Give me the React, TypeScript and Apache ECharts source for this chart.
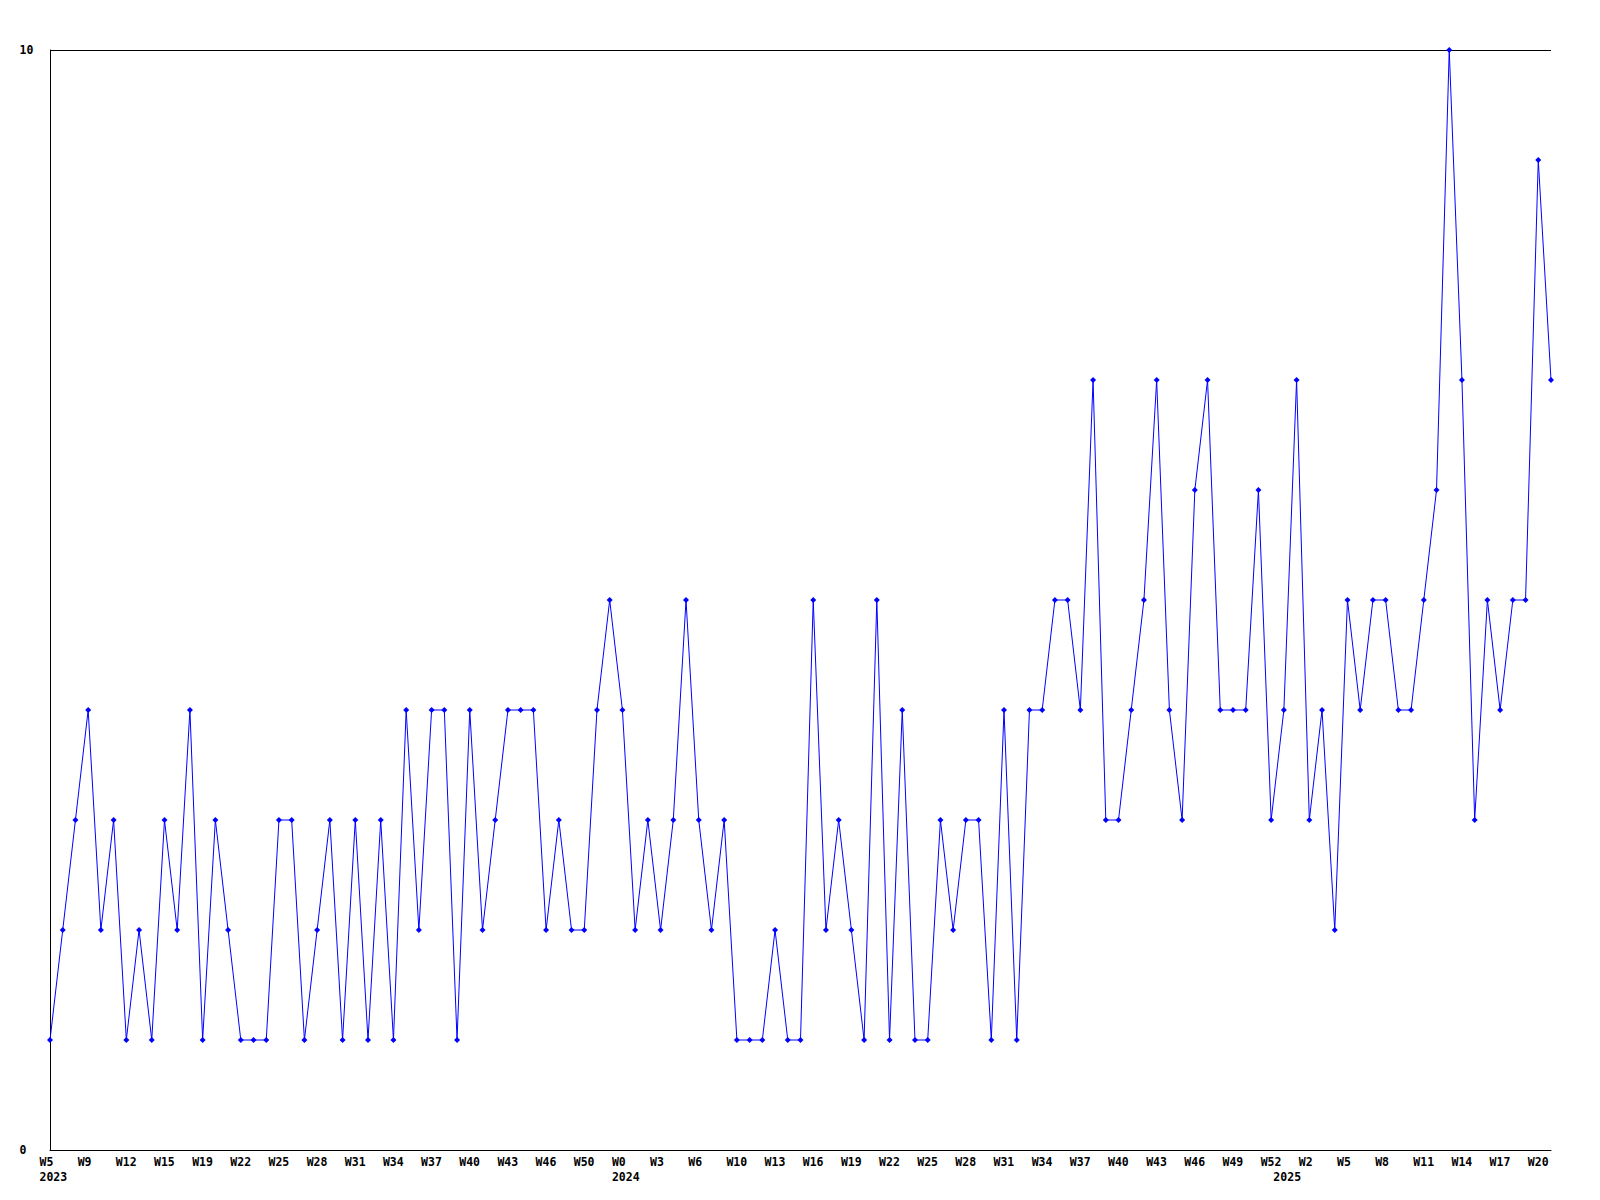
import React, { useEffect, useRef } from "react";
import * as echarts from "echarts";

const weekLabels = [
  "W5", "W9", "W12", "W15", "W19", "W22", "W25", "W28", "W31", "W34",
  "W37", "W40", "W43", "W46", "W50", "W0", "W3", "W6", "W10", "W13",
  "W16", "W19", "W22", "W25", "W28", "W31", "W34", "W37", "W40", "W43",
  "W46", "W49", "W52", "W2", "W5", "W8", "W11", "W14", "W17", "W20",
];
const labelEvery = 3;
const yearLabels = ["2023", "2024", "2025"];
const yearIndex = [0, 45, 97];

const values = [
  1, 2, 3, 4, 2, 3, 1, 2, 1, 3, 2, 4, 1, 3, 2, 1,
  1, 1,
  3, 3, 1, 2, 3, 1, 3, 1, 3, 1,
  4, 2, 4, 4, 1, 4, 2, 3, 4, 4, 4, 2, 3, 2, 2, 4, 5,
  4, 2, 3, 2, 3, 5, 3, 2, 3, 1, 1, 1, 2, 1, 1,
  5, 2, 3, 2, 1, 5, 1, 4, 1, 1, 3, 2, 3, 3, 1,
  4, 1, 4, 4, 5, 5, 4, 7, 3, 3, 4, 5, 7, 4, 3,
  6, 7, 4, 4, 4, 6, 3, 4, 7, 3, 4, 2, 5, 4, 5, 5, 4, 4, 5, 6, 10, 7, 3, 5, 4, 5, 5, 9, 7,
];

const FONT = "'DejaVu Sans Mono', 'Liberation Mono', monospace";

export default function App() {
  const ref = useRef<HTMLDivElement>(null);
  useEffect(() => {
    if (!ref.current) return;
    const chart = echarts.init(ref.current, null, { renderer: "svg" });
    const cats = values.map((_, i) => (i % labelEvery === 0 ? weekLabels[i / labelEvery] || "" : ""));
    const yearCats = values.map((_, i) => {
      const k = yearIndex.indexOf(i);
      return k >= 0 ? yearLabels[k] : "";
    });
    const rich = {
      a: { width: 21, align: "left", fontFamily: FONT, fontSize: 11.5, fontWeight: "bold", color: "#000" },
    };
    chart.setOption({
      animation: false,
      backgroundColor: "#fff",
      grid: { left: 50, top: 50, right: 49, bottom: 50, containLabel: false },
      xAxis: [
        {
          type: "category",
          data: cats,
          boundaryGap: false,
          axisLine: { show: true, lineStyle: { color: "#000", width: 1 } },
          axisTick: { show: false },
          splitLine: { show: false },
          axisLabel: {
            interval: 0,
            margin: 6,
            align: "center",
            formatter: (v: string) => (v ? `{a|${v}}` : ""),
            rich,
          },
        },
        {
          type: "category",
          data: yearCats,
          position: "bottom",
          boundaryGap: false,
          axisLine: { show: false },
          axisTick: { show: false },
          splitLine: { show: false },
          axisLabel: {
            interval: 0,
            margin: 21,
            align: "center",
            formatter: (v: string) => (v ? `{a|${v}}` : ""),
            rich,
          },
        },
      ],
      yAxis: {
        type: "value",
        min: 0,
        max: 10,
        interval: 10,
        axisLine: { show: true, lineStyle: { color: "#000", width: 1 } },
        axisTick: { show: false },
        splitLine: { show: true, lineStyle: { color: "#000", width: 1 } },
        axisLabel: {
          margin: 30.5,
          align: "left",
          fontFamily: FONT,
          fontSize: 11.5,
          fontWeight: "bold",
          color: "#000",
        },
      },
      series: [
        {
          type: "line",
          data: values,
          xAxisIndex: 0,
          symbol: "diamond",
          symbolSize: 6,
          showAllSymbol: true,
          lineStyle: { color: "#0000ff", width: 1 },
          itemStyle: { color: "#0000ff" },
        },
      ],
    });
    return () => chart.dispose();
  }, []);
  return (
    <div
      ref={ref}
      style={{ position: "absolute", left: 0, top: 0, width: 1600, height: 1200 }}
    />
  );
}
